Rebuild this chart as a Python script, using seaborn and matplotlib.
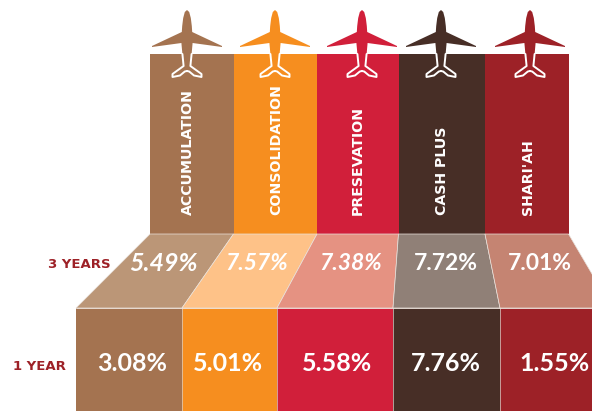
import matplotlib
matplotlib.use("Agg")
import matplotlib.pyplot as plt
import seaborn as sns
from matplotlib.patches import Polygon

# Fund names and returns
funds = ["ACCUMULATION", "CONSOLIDATION", "PRESEVATION", "CASH PLUS", "SHARI'AH"]
three_year = ["5.49%", "7.57%", "7.38%", "7.72%", "7.01%"]
one_year = ["3.08%", "5.01%", "5.58%", "7.76%", "1.55%"]
italic_three_year = [True, True, True, False, False]
tier_names = ["3 YEARS", "1 YEAR"]

# Colours
strong = ["#A47350", "#F68E1F", "#D11F3A", "#472E26", "#9D2127"]
pale = ["#BB9677", "#FEC288", "#E59282", "#908077", "#C58472"]
tier_colour = "#9D2127"

# Layout, in pixels from the top-left corner
W, H = 592, 411
top_edges = [150, 233.5, 317, 398.5, 485, 568.5]
low_edges = [76, 182, 277, 393, 500, 612]
top_y, mid_y, low_y, end_y = 54, 234, 308, 411
plane_x = [187, 275, 362, 441, 530]
name_x = [188, 276, 358, 442, 528]
three_x = [163, 257, 351, 446, 540]
three_size = [18, 16.5, 16.5, 16.5, 16.5]
one_x = [132, 228, 337, 446, 555]

sns.set_theme(style="white")
fig = plt.figure(figsize=(W / 100, H / 100), dpi=100)
ax = fig.add_axes([0, 0, 1, 1])


def band(edges, y0, y1, colours):
    """Draw one row of contiguous bars with seaborn, then fit them to the column edges."""
    start = len(ax.patches)
    sns.barplot(x=funds, y=[y1 - y0] * len(funds), hue=funds, palette=colours,
                legend=False, ax=ax, saturation=1, linewidth=0, width=1)
    for i, bar in enumerate(ax.patches[start:]):
        bar.set_x(edges[i])
        bar.set_width(edges[i + 1] - edges[i])
        bar.set_y(y0)
        bar.set_height(y1 - y0)


band(top_edges, top_y, mid_y, strong)
band(low_edges, low_y, end_y, strong)

# Sloping 3-year panels joining the two rows
for i, colour in enumerate(pale):
    ax.add_patch(Polygon([(top_edges[i], mid_y), (top_edges[i + 1], mid_y),
                          (low_edges[i + 1], low_y), (low_edges[i], low_y)],
                         closed=True, facecolor=colour, edgecolor="#E9E2DC", linewidth=0.5))
for x in low_edges[1:5]:
    ax.plot([x, x], [low_y, end_y], color="#D8CFC8", linewidth=0.5)
ax.plot([low_edges[0], W], [low_y, low_y], color="#EFE6DF", linewidth=0.6)


def plane(cx, colour):
    """Airliner seen from above; its tail overlaps the column and is outlined in white."""
    half = [(0, 10), (2.2, 12), (3.8, 18), (4.8, 26), (5.2, 32), (35, 46), (35, 47), (5.6, 43),
            (4.6, 54), (3.4, 66), (14.5, 74), (14.5, 77), (7, 75.5), (2.2, 71.5), (0, 71)]
    outline = [(cx + x, y) for x, y in half] + [(cx - x, y) for x, y in reversed(half)]
    ax.add_patch(Polygon(outline, closed=True, facecolor=colour, edgecolor="none", zorder=3))
    # White outline of the part over the column
    lower = [p for p in half if p[1] >= 54]
    for sign in (1, -1):
        ax.plot([cx + sign * p[0] for p in lower], [p[1] for p in lower],
                color="white", linewidth=1.4, zorder=4, solid_joinstyle="round")


for cx, colour in zip(plane_x, strong):
    plane(cx, colour)

# Fund names running up each column, all starting from the same baseline
for cx, name in zip(name_x, funds):
    ax.text(cx, 215, name, rotation=90, ha="center", va="bottom", color="white",
            family="DejaVu Sans", weight="bold", fontsize=10.2, zorder=5)

# Return figures
for x, label, slanted, size in zip(three_x, three_year, italic_three_year, three_size):
    ax.text(x, 263, label, ha="center", va="center", color="white", family="Lato",
            weight="bold", style="italic" if slanted else "normal", fontsize=size, zorder=5)
for x, label in zip(one_x, one_year):
    ax.text(x, 363, label, ha="center", va="center", color="white", family="Lato",
            weight="bold", fontsize=18, zorder=5)

# Row captions
ax.text(79.5, 264, tier_names[0], ha="center", va="center", color=tier_colour,
        family="DejaVu Sans", weight="bold", fontsize=9.5)
ax.text(39.5, 366, tier_names[1], ha="center", va="center", color=tier_colour,
        family="DejaVu Sans", weight="bold", fontsize=9.5)

ax.set_xlim(0, W)
ax.set_ylim(H, 0)
ax.axis("off")
fig.savefig("out.png", dpi=100)
